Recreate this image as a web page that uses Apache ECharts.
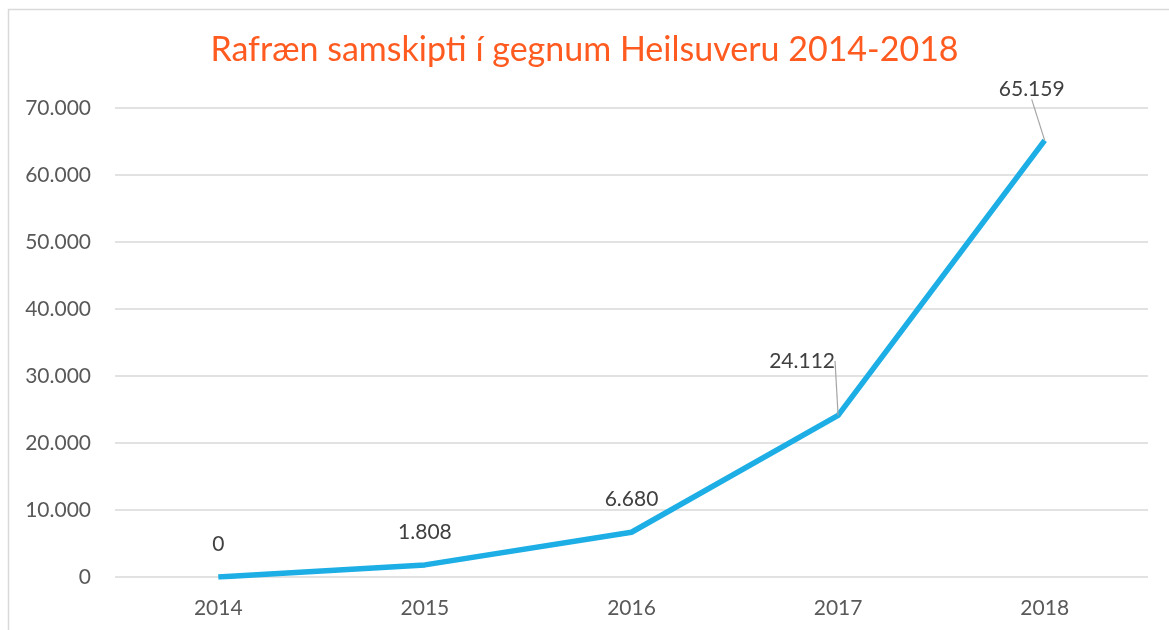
<!DOCTYPE html>
<html>
<head>
<meta charset="utf-8">
<script src="https://cdn.jsdelivr.net/npm/echarts@6/dist/echarts.min.js"></script>
<style>
  html, body { margin: 0; padding: 0; background: #fff; }
  #chart { width: 1169px; height: 630px; }
</style>
</head>
<body>
<div id="chart"></div>
<script>
const years = ['2014', '2015', '2016', '2017', '2018'];
const messages = [0, 1808, 6680, 24112, 65159];
// labels that are pulled away from their point (with a guide line)
const labelShift = { 3: [-36, -22], 4: [-13, -19] };

// Icelandic thousands separator
function fmt(v) {
  return String(v).replace(/\B(?=(\d{3})+(?!\d))/g, '.');
}

const chart = echarts.init(document.getElementById('chart'));
const font = 'Lato, "Open Sans", sans-serif';

const option = {
  animation: false,
  textStyle: { fontFamily: font },
  title: {
    text: 'Rafræn samskipti í gegnum Heilsuveru 2014-2018',
    left: 'center',
    top: 28,
    textStyle: { fontFamily: font, fontSize: 34, fontWeight: 'normal', color: '#ff5a1f' }
  },
  graphic: [{
    type: 'rect',
    shape: { x: 8.5, y: 9.5, width: 1300, height: 800 },
    style: { fill: 'none', stroke: '#d9d9d9', lineWidth: 1.5 },
    silent: true
  }],
  grid: { left: 115, right: 21, top: 108, bottom: 53 },
  xAxis: {
    type: 'category',
    data: years,
    axisLine: { show: false },
    axisTick: { show: false },
    axisLabel: { fontSize: 21, color: '#595959', margin: 21 }
  },
  yAxis: {
    type: 'value',
    min: 0,
    max: 70000,
    interval: 10000,
    axisLine: { show: false },
    axisTick: { show: false },
    axisLabel: { fontSize: 21, color: '#595959', margin: 24, formatter: fmt },
    splitLine: { lineStyle: { color: '#d9d9d9', width: 1.5 } }
  },
  series: [{
    type: 'line',
    data: messages.map((v, i) => ({
      value: v,
      labelLine: { show: !!labelShift[i] }
    })),
    symbol: 'circle',
    symbolSize: 0.1,
    lineStyle: { color: '#1caee4', width: 5.5 },
    itemStyle: { color: '#1caee4' },
    label: {
      show: true,
      position: 'top',
      distance: 22,
      fontSize: 21,
      color: '#404040',
      formatter: p => fmt(p.value)
    },
    labelLine: { lineStyle: { color: '#a6a6a6', width: 1.2 } },
    labelLayout: function (params) {
      const s = labelShift[params.dataIndex];
      return s ? { dx: s[0], dy: s[1] } : {};
    }
  }]
};
chart.setOption(option);
</script>
</body>
</html>
